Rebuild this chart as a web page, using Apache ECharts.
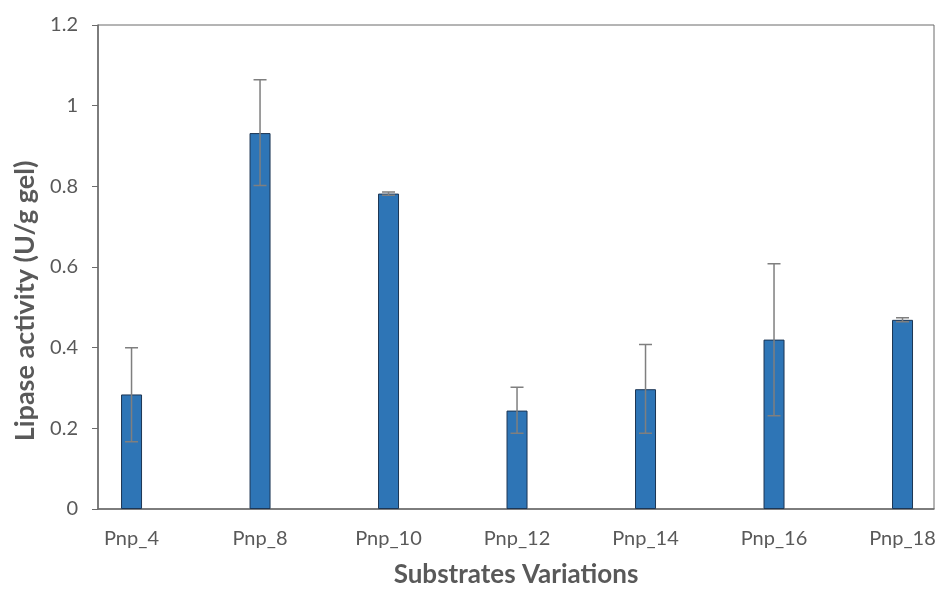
<!DOCTYPE html>
<html>
<head>
<meta charset="utf-8">
<script src="https://cdn.jsdelivr.net/npm/echarts@6/dist/echarts.min.js"></script>
<style>
html,body{margin:0;padding:0;background:#fff;}
#chart{width:938px;height:590px;}
</style>
</head>
<body>
<div id="chart"></div>
<script>
const categories = ['Pnp_4','Pnp_8','Pnp_10','Pnp_12','Pnp_14','Pnp_16','Pnp_18'];
const activity = [0.284, 0.932, 0.782, 0.244, 0.297, 0.420, 0.469];
const errLow = [0.167, 0.802, 0.778, 0.188, 0.188, 0.231, 0.464];
const errHigh = [0.400, 1.064, 0.786, 0.302, 0.408, 0.608, 0.474];
const yTicks = [0, 0.2, 0.4, 0.6, 0.8, 1, 1.2];

const chart = echarts.init(document.getElementById('chart'), null, {renderer:'canvas'});
const textColor = '#595959';
const font = 'Lato, Open Sans, sans-serif';

chart.setOption({
  animation: false,
  backgroundColor: '#fff',
  grid: {left: 98, right: 4, top: 25, bottom: 81, show: true, borderColor: '#6b6b6b', borderWidth: 1,
         backgroundColor: 'transparent', containLabel: false, outerBoundsMode: 'none'},
  xAxis: {
    type: 'value',
    min: -0.261, max: 6.245,
    name: 'Substrates Variations',
    nameLocation: 'middle',
    nameGap: 53,
    nameTextStyle: {color: textColor, fontSize: 26, fontWeight: 'bold', fontFamily: font},
    axisLine: {show: true, onZero: false, lineStyle: {color: '#6b6b6b', width: 1.5}},
    axisTick: {show: false},
    splitLine: {show: false},
    axisLabel: {
      customValues: categories.map((c, i) => i),
      formatter: v => categories[Math.round(v)] || '',
      color: textColor, fontSize: 20, fontFamily: font, margin: 20
    }
  },
  yAxis: {
    type: 'value',
    min: yTicks[0], max: yTicks[yTicks.length - 1], interval: 0.2,
    name: 'Lipase activity (U/g gel)',
    nameLocation: 'middle',
    nameGap: 59,
    nameTextStyle: {color: textColor, fontSize: 27, fontWeight: 'bold', fontFamily: font, padding: [0, 68, 0, 0]},
    axisLine: {show: true, onZero: false, lineStyle: {color: '#6b6b6b', width: 1.5}},
    axisTick: {show: true, length: 6, lineStyle: {color: '#6b6b6b', width: 1}},
    splitLine: {show: false},
    axisLabel: {color: textColor, fontSize: 20, fontFamily: font, margin: 20}
  },
  series: [
    {
      type: 'bar',
      barWidth: 21,
      data: activity.map((v, i) => [i, v]),
      itemStyle: {color: '#2E75B6', borderColor: '#1c3553', borderWidth: 1},
      z: 2
    },
    {
      type: 'custom',
      z: 5,
      data: categories.map((c, i) => [i, errLow[i], errHigh[i]]),
      renderItem: function (params, api) {
        const x = api.value(0);
        const lo = api.coord([x, api.value(1)]);
        const hi = api.coord([x, api.value(2)]);
        const half = 6.5;
        return {
          type: 'polyline',
          shape: {points: [
            [hi[0] - half, hi[1]], [hi[0] + half, hi[1]], [hi[0], hi[1]],
            [lo[0], lo[1]], [lo[0] - half, lo[1]], [lo[0] + half, lo[1]]
          ]},
          style: {stroke: '#7f7f7f', lineWidth: 1.5, fill: null}
        };
      }
    }
  ]
});
</script>
</body>
</html>
